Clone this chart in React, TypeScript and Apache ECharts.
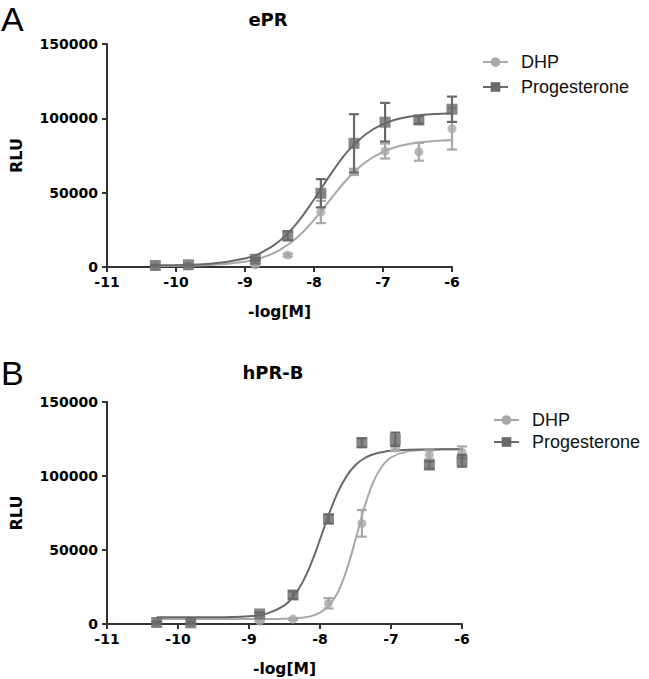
import React, { useEffect, useRef } from "react";
import * as echarts from "echarts";

// ---- Panel A (ePR) ----
const doseA = [-10.3, -9.82, -8.85, -8.38, -7.9, -7.42, -6.97, -6.48, -6.0];
const dhpA = [500, 800, 1500, 8000, 37000, 64000, 78000, 77500, 93000];
const dhpAErr = [300, 300, 500, 1000, 7500, 2000, 5000, 6000, 14000];
const progA = [1000, 1500, 5200, 21000, 49600, 83200, 97400, 98900, 106100];
const progAErr = [300, 300, 800, 3000, 9500, 19600, 13000, 2500, 8500];
const curveXA = [-10.3, -9.5, -9, -8.75, -8.5, -8.25, -8, -7.75, -7.5, -7.25, -7, -6.75, -6.5, -6.25, -6];
const dhpCurveA = [600, 1300, 3500, 6300, 11300, 19600, 31700, 46200, 60000, 70600, 77500, 81500, 83700, 84800, 85400];
const progCurveA = [1100, 2200, 5700, 10000, 17500, 29400, 45400, 63000, 78400, 89300, 96100, 99900, 101900, 102900, 103500];

// ---- Panel B (hPR-B) ----
const doseB = [-10.3, -9.82, -8.85, -8.38, -7.88, -7.41, -6.94, -6.46, -6.0];
const dhpB = [600, 700, 2000, 3300, 14000, 68000, 119000, 114200, 116000];
const dhpBErr = [300, 300, 500, 500, 3500, 9000, 2000, 3000, 4000];
const progB = [1000, 800, 6800, 19600, 71000, 122500, 124800, 107400, 110300];
const progBErr = [500, 300, 1000, 2500, 3000, 3000, 4500, 2500, 4000];
const curveXB = [-10.3, -9.5, -9, -8.75, -8.5, -8.375, -8.25, -8.125, -8, -7.875, -7.75, -7.625, -7.5, -7.375, -7.25, -7.125, -7, -6.75, -6.5, -6.25, -6];
const dhpCurveB = [3300, 3300, 3300, 3340, 3500, 3740, 4250, 5340, 7650, 12400, 21300, 36500, 57100, 78800, 95900, 106600, 112500, 116800, 117700, 118000, 118000];
const progCurveB = [4500, 4570, 5300, 7000, 12600, 18500, 27800, 40900, 57100, 74100, 88900, 99900, 107400, 112000, 114600, 116100, 117000, 117700, 117900, 118000, 118000];

const xTicks = { min: -11, max: -6, interval: 1 };
const yTicks = { min: 0, max: 150000, interval: 50000 };
const seriesNames = ["DHP", "Progesterone"];
const panelTitles = ["ePR", "hPR-B"];
const panelLetters = ["A", "B"];

const LIGHT = "#a8a8a8";
const DARK = "#696969";
const AXIS = "#333333";
const FONT = "'Liberation Sans', Arial, Helvetica, sans-serif";
const BOLD = "'DejaVu Sans', 'Liberation Sans', Arial, sans-serif";

const zip = (xs: number[], ys: number[]) => xs.map((x, i) => [x, ys[i]]);
const errData = (xs: number[], ys: number[], es: number[]) =>
  xs.map((x, i) => [x, ys[i] - es[i], ys[i] + es[i]]);

function errRenderer(color: string) {
  return (params: any, api: any) => {
    const x = api.value(0);
    const p1 = api.coord([x, api.value(1)]);
    const p2 = api.coord([x, api.value(2)]);
    const w = 5;
    const style = { stroke: color, lineWidth: 2.2 };
    return {
      type: "group",
      children: [
        { type: "line", shape: { x1: p1[0], y1: p1[1], x2: p2[0], y2: p2[1] }, style },
        { type: "line", shape: { x1: p1[0] - w, y1: p1[1], x2: p1[0] + w, y2: p1[1] }, style },
        { type: "line", shape: { x1: p2[0] - w, y1: p2[1], x2: p2[0] + w, y2: p2[1] }, style },
      ],
    };
  };
}

function panelSeries(idx: number, cx: number[], dc: number[], pc: number[], dose: number[], d: number[], de: number[], p: number[], pe: number[]) {
  const base = { xAxisIndex: idx, yAxisIndex: idx };
  return [
    {
      ...base, type: "line", name: seriesNames[0], data: zip(cx, dc), smooth: 0.4,
      symbol: "circle", symbolSize: 8, showSymbol: false, lineStyle: { color: LIGHT, width: 2 },
      itemStyle: { color: LIGHT }, z: 2,
    },
    {
      ...base, type: "line", name: seriesNames[1], data: zip(cx, pc), smooth: 0.4,
      symbol: "rect", symbolSize: 9, showSymbol: false, lineStyle: { color: DARK, width: 2 },
      itemStyle: { color: DARK }, z: 3,
    },
    {
      ...base, type: "custom", name: seriesNames[0], data: errData(dose, d, de),
      renderItem: errRenderer(LIGHT), encode: { x: 0, y: [1, 2] }, z: 4,
    },
    {
      ...base, type: "scatter", name: seriesNames[0], data: zip(dose, d), symbol: "circle", symbolSize: 9,
      itemStyle: { color: LIGHT }, z: 5,
    },
    {
      ...base, type: "custom", name: seriesNames[1], data: errData(dose, p, pe),
      renderItem: errRenderer(DARK), encode: { x: 0, y: [1, 2] }, z: 6,
    },
    {
      ...base, type: "scatter", name: seriesNames[1], data: zip(dose, p), symbol: "rect", symbolSize: 11,
      itemStyle: { color: DARK }, z: 7,
    },
  ];
}

function xAxisCfg(idx: number) {
  return {
    gridIndex: idx, type: "value", ...xTicks, name: "-log[M]", nameLocation: "middle", nameGap: 37,
    nameTextStyle: { fontFamily: BOLD, fontWeight: "bold", fontSize: 15.5, color: "#000" },
    axisLine: { onZero: false, lineStyle: { color: AXIS, width: 2 } },
    axisTick: { length: 5, lineStyle: { color: AXIS, width: 2 } },
    axisLabel: { fontFamily: BOLD, fontWeight: "bold", fontSize: 14, color: "#000", margin: 8 },
    splitLine: { show: false },
  };
}
function yAxisCfg(idx: number) {
  return {
    gridIndex: idx, type: "value", ...yTicks, name: "RLU", nameLocation: "middle", nameGap: 83,
    nameTextStyle: { fontFamily: BOLD, fontWeight: "bold", fontSize: 16, color: "#000" },
    axisLine: { show: true, lineStyle: { color: AXIS, width: 2 } },
    axisTick: { show: true, length: 5, lineStyle: { color: AXIS, width: 2 } },
    axisLabel: {
      fontFamily: BOLD, fontWeight: "bold", fontSize: 14, color: "#000", margin: 9,
      formatter: (v: number) => String(v),
    },
    splitLine: { show: false },
  };
}
function legendCfg(left: number, top: number, gap: number) {
  return {
    orient: "vertical", left, top, itemWidth: 25, itemHeight: 12, itemGap: gap,
    data: seriesNames,
    textStyle: { fontFamily: FONT, fontSize: 18, color: "#111", padding: [0, 0, 0, 8] },
  };
}

export default function App() {
  const ref = useRef<HTMLDivElement>(null);
  useEffect(() => {
    document.body.style.margin = "0";
    const chart = echarts.init(ref.current!, null, { renderer: "svg" });
    chart.setOption({
      animation: false,
      backgroundColor: "#fff",
      title: [
        { text: panelTitles[0], left: 263, top: 5, textAlign: "center", textStyle: { fontFamily: BOLD, fontWeight: "bold", fontSize: 18, color: "#000" } },
        { text: panelTitles[1], left: 268, top: 358, textAlign: "center", textStyle: { fontFamily: BOLD, fontWeight: "bold", fontSize: 18, color: "#000" } },
      ],
      graphic: [
        { type: "text", left: 1, top: 2, style: { text: panelLetters[0], font: `34px ${FONT}`, fill: "#000" } },
        { type: "text", left: 1, top: 356, style: { text: panelLetters[1], font: `34px ${FONT}`, fill: "#000" } },
      ],
      legend: [legendCfg(477, 48, 7), legendCfg(488, 406, 4)],
      grid: [
        { left: 95, right: 197, top: 44, bottom: 412, containLabel: false },
        { left: 98, right: 187, top: 402, bottom: 55, containLabel: false },
      ],
      xAxis: [xAxisCfg(0), xAxisCfg(1)],
      yAxis: [yAxisCfg(0), yAxisCfg(1)],
      series: [
        ...panelSeries(0, curveXA, dhpCurveA, progCurveA, doseA, dhpA, dhpAErr, progA, progAErr),
        ...panelSeries(1, curveXB, dhpCurveB, progCurveB, doseB, dhpB, dhpBErr, progB, progBErr),
      ],
    });
    return () => chart.dispose();
  }, []);
  return <div ref={ref} style={{ width: 649, height: 679 }} />;
}
